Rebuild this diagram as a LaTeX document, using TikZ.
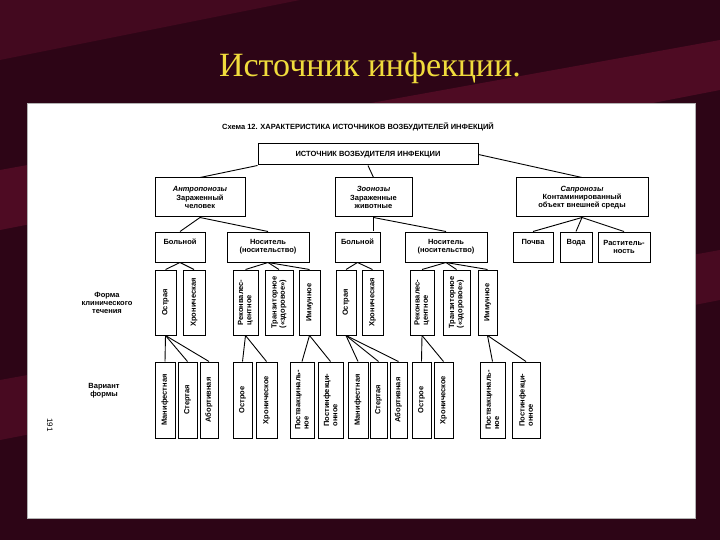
\documentclass[tikz,border=0pt]{standalone}
\usepackage{fontspec}
\setmainfont{Liberation Sans}
\newfontfamily\titlefont{Liberation Serif}
\begin{document}
\begin{tikzpicture}[x=1pt,y=-1pt,
  bx/.style={draw,line width=1pt,inner sep=0pt,font=\bfseries\fontsize{7.5}{8.3}\selectfont,align=center},
  vt/.style={rotate=90,font=\bfseries\fontsize{7.5}{8.3}\selectfont,align=left,inner sep=0pt},
  ln/.style={line width=0.9pt}]
\definecolor{bgdark}{RGB}{45,5,22}
\definecolor{bgmid}{RGB}{100,15,45}
\definecolor{ttl}{RGB}{240,220,60}
\useasboundingbox (0,0) rectangle (720,540);
\fill[bgdark] (0,0) rectangle (720,540);
\fill[bgmid,opacity=0.6] (0,170) -- (720,40) -- (720,90) -- (0,230) -- cycle;
\fill[bgmid,opacity=0.5] (0,380) -- (720,250) -- (720,300) -- (0,440) -- cycle;
\fill[bgmid,opacity=0.4] (0,0) -- (300,0) -- (0,60) -- cycle;
\node[font=\titlefont\fontsize{34}{36}\selectfont,text=ttl] (title) at (370,68) {Источник инфекции.};
\fill[white,draw=gray!60] (27,103) rectangle (695,518);
\newcommand\bx[6]{\node[bx,minimum width={(#3-#2)*1pt},minimum height={(#5-#4)*1pt}] (#1) at ({(#2+#3)/2},{(#4+#5)/2}) {#6};}
\newcommand\vb[6]{\node[bx,minimum width={(#3-#2)*1pt},minimum height={(#5-#4)*1pt}] (#1) at ({(#2+#3)/2},{(#4+#5)/2}) {};
  \node[vt] at (#1) {#6};}
\node[font=\bfseries\fontsize{7.5}{8}\selectfont] (cap) at (358,127) {Схема 12. ХАРАКТЕРИСТИКА ИСТОЧНИКОВ ВОЗБУДИТЕЛЕЙ ИНФЕКЦИЙ};
\bx{root}{258}{478}{144}{165}{ИСТОЧНИК ВОЗБУДИТЕЛЯ ИНФЕКЦИИ}
\bx{an}{155}{245}{178}{217}{\textit{Антропонозы}\\Зараженный\\человек}
\bx{zo}{335}{412}{178}{217}{\textit{Зоонозы}\\Зараженные\\животные}
\bx{sa}{516}{648}{178}{217}{\textit{Сапронозы}\\Контаминированный\\объект внешней среды}
\bx{b1}{155}{205}{232}{262}{Больной\\\strut}
\bx{n1}{227}{309}{232}{262}{Носитель\\(носительство)}
\bx{b2}{335}{380}{232}{262}{Больной\\\strut}
\bx{n2}{405}{487}{232}{262}{Носитель\\(носительство)}
\bx{p}{513}{553}{232}{262}{Почва\\\strut}
\bx{w}{560}{592}{232}{262}{Вода\\\strut}
\bx{r}{598}{650}{232}{262}{Раститель-\\ность}
\vb{o1}{155}{176}{270}{335}{Острая}
\vb{h1}{183}{205}{270}{335}{Хроническая}
\vb{re1}{233}{258}{270}{335}{Реконвалес-\\центное}
\vb{t1}{265}{293}{270}{335}{Транзиторное\\(«здоровое»)}
\vb{i1}{299}{320}{270}{335}{Иммунное}
\vb{o2}{336}{356}{270}{335}{Острая}
\vb{h2}{362}{383}{270}{335}{Хроническая}
\vb{re2}{410}{434}{270}{335}{Реконвалес-\\центное}
\vb{t2}{443}{470}{270}{335}{Транзиторное\\(«здоровое»)}
\vb{i2}{478}{497}{270}{335}{Иммунное}
\vb{m1}{155}{175}{362}{438}{Манифестная}
\vb{s1}{178}{197}{362}{438}{Стертая}
\vb{a1}{200}{218}{362}{438}{Абортивная}
\vb{oo1}{233}{252}{362}{438}{Острое}
\vb{hh1}{256}{277}{362}{438}{Хроническое}
\vb{pv1}{290}{314}{362}{438}{Поствакциналь-\\ное}
\vb{pi1}{318}{343}{362}{438}{Постинфекци-\\онное}
\vb{m2}{348}{368}{362}{438}{Манифестная}
\vb{s2}{370}{387}{362}{438}{Стертая}
\vb{a2}{390}{407}{362}{438}{Абортивная}
\vb{oo2}{412}{431}{362}{438}{Острое}
\vb{hh2}{434}{453}{362}{438}{Хроническое}
\vb{pv2}{480}{505}{362}{438}{Поствакциналь-\\ное}
\vb{pi2}{512}{540}{362}{438}{Постинфекци-\\онное}
\node[font=\bfseries\fontsize{7.5}{8.3}\selectfont,align=center] (lf) at (107,303) {Форма\\клинического\\течения};
\node[font=\bfseries\fontsize{7.5}{8.3}\selectfont,align=center] (lv) at (104,391) {Вариант\\формы};
\node[rotate=-90,font=\fontsize{8}{9}\selectfont] (pg) at (50,425) {191};
\draw[ln] (root.south west) -- (an.north);
\draw[ln] (root.south) -- (zo.north);
\draw[ln] (root.east) -- (sa.north);
\draw[ln] (an.south) -- (b1.north); \draw[ln] (an.south) -- (n1.north);
\draw[ln] (zo.south) -- (zo.south|-b2.north); \draw[ln] (zo.south) -- (n2.north);
\draw[ln] (sa.south) -- (p.north); \draw[ln] (sa.south) -- (w.north); \draw[ln] (sa.south) -- (r.north);
\foreach \pp/\kids in {b1/{o1,h1},n1/{re1,t1,i1},b2/{o2,h2},n2/{re2,t2,i2},o1/{m1,s1,a1},re1/{oo1,hh1},i1/{pv1,pi1},o2/{m2,s2,a2},re2/{oo2,hh2},i2/{pv2,pi2}}
  \foreach \k in \kids {\draw[ln] (\pp.south) -- (\k.north);}
\end{tikzpicture}
\end{document}
